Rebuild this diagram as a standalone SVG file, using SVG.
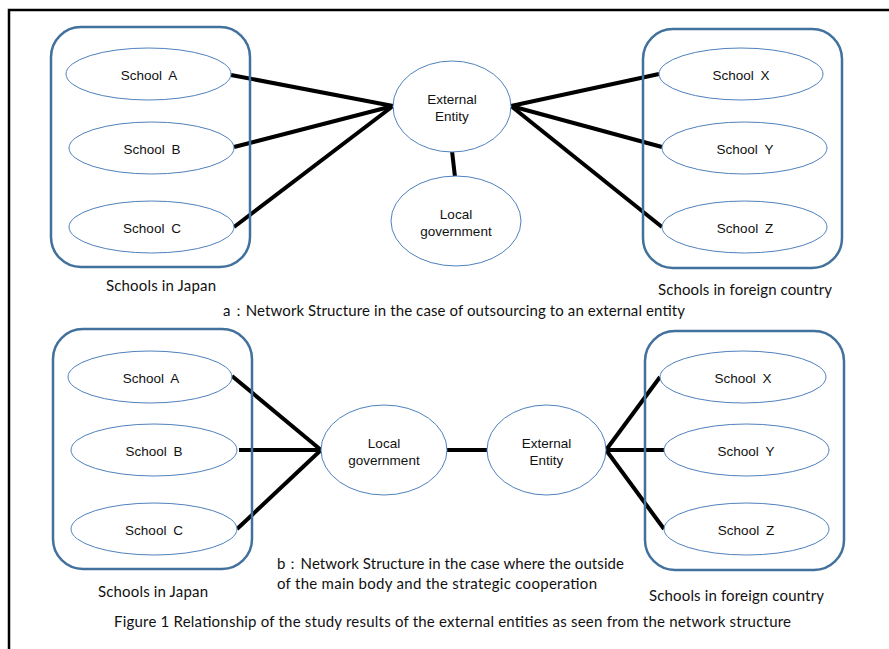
<svg xmlns="http://www.w3.org/2000/svg" width="889" height="649" viewBox="0 0 889 649">
<style>
.frame{fill:none;stroke:#000;stroke-width:2.5}
.grp{fill:none;stroke:#41719c;stroke-width:2.5}
.node{fill:#fff;stroke:#4f81bd;stroke-width:1}
.edge{stroke:#000;stroke-width:4;stroke-linecap:butt;fill:none}
text{font-family:"Liberation Sans",Arial,sans-serif;fill:#111;text-anchor:middle}
.n{font-size:13.5px;word-spacing:3px}
.lbl{font-family:Lato,"Liberation Sans",sans-serif;font-size:15px;text-anchor:start}
.cap{font-family:Lato,"Liberation Sans",sans-serif;font-size:15px;text-anchor:start}
</style>
<rect class="frame" x="9" y="10" width="900" height="700"/>

<g id="connectors">
<line class="edge" x1="231" y1="75" x2="393" y2="106"/>
<line class="edge" x1="234" y1="147" x2="393" y2="106"/>
<line class="edge" x1="234" y1="227" x2="393" y2="106"/>
<line class="edge" x1="511" y1="106" x2="659" y2="74"/>
<line class="edge" x1="511" y1="106" x2="662" y2="147"/>
<line class="edge" x1="511" y1="106" x2="662" y2="227"/>
<line class="edge" x1="452" y1="151" x2="455" y2="177"/>
<line class="edge" x1="232" y1="376" x2="321" y2="450"/>
<line class="edge" x1="239" y1="450" x2="321" y2="450"/>
<line class="edge" x1="237" y1="529" x2="321" y2="450"/>
<line class="edge" x1="447" y1="450" x2="487" y2="450"/>
<line class="edge" x1="606" y1="450" x2="660" y2="377"/>
<line class="edge" x1="606" y1="450" x2="664" y2="450"/>
<line class="edge" x1="606" y1="450" x2="664" y2="529"/>
</g>

<g id="group-japan-a"><rect class="grp" x="51" y="27" width="199" height="240" rx="30"/></g>
<g id="group-foreign-a"><rect class="grp" x="643" y="29" width="199" height="239" rx="30"/></g>
<g id="group-japan-b"><rect class="grp" x="53" y="329" width="199" height="240" rx="30"/></g>
<g id="group-foreign-b"><rect class="grp" x="645" y="331" width="199" height="239" rx="30"/></g>

<g id="a-school-a"><ellipse class="node" cx="148.5" cy="74" rx="82.5" ry="26"/><text class="n" x="149" y="80">School A</text></g>
<g id="a-school-b"><ellipse class="node" cx="151.5" cy="148" rx="82.5" ry="26"/><text class="n" x="152" y="154">School B</text></g>
<g id="a-school-c"><ellipse class="node" cx="151.5" cy="227" rx="82.5" ry="26"/><text class="n" x="152" y="233">School C</text></g>
<g id="a-school-x"><ellipse class="node" cx="741" cy="74" rx="82" ry="26"/><text class="n" x="741" y="80">School X</text></g>
<g id="a-school-y"><ellipse class="node" cx="744.5" cy="148" rx="82.5" ry="26"/><text class="n" x="745" y="154">School Y</text></g>
<g id="a-school-z"><ellipse class="node" cx="744.5" cy="227" rx="82.5" ry="26"/><text class="n" x="745" y="233">School Z</text></g>
<g id="a-external"><ellipse class="node" cx="452" cy="106.5" rx="59" ry="45.5"/><text class="n" x="452" y="104">External</text><text class="n" x="452" y="121">Entity</text></g>
<g id="a-local"><ellipse class="node" cx="456" cy="221" rx="65" ry="45"/><text class="n" x="456" y="218.5">Local</text><text class="n" x="456" y="235.5">government</text></g>

<g id="b-school-a"><ellipse class="node" cx="150" cy="377" rx="82" ry="26"/><text class="n" x="151" y="383">School A</text></g>
<g id="b-school-b"><ellipse class="node" cx="154" cy="450" rx="83" ry="26"/><text class="n" x="154" y="456">School B</text></g>
<g id="b-school-c"><ellipse class="node" cx="154" cy="529" rx="83" ry="26"/><text class="n" x="154" y="535">School C</text></g>
<g id="b-school-x"><ellipse class="node" cx="743" cy="377" rx="83" ry="26"/><text class="n" x="743" y="383">School X</text></g>
<g id="b-school-y"><ellipse class="node" cx="746.5" cy="450" rx="82.5" ry="26"/><text class="n" x="746" y="456">School Y</text></g>
<g id="b-school-z"><ellipse class="node" cx="746.5" cy="529" rx="82.5" ry="26"/><text class="n" x="746" y="535">School Z</text></g>
<g id="b-local"><ellipse class="node" cx="384" cy="450" rx="63" ry="45"/><text class="n" x="384" y="447.5">Local</text><text class="n" x="384" y="464.5">government</text></g>
<g id="b-external"><ellipse class="node" cx="546.5" cy="450" rx="59.5" ry="45"/><text class="n" x="546.5" y="447.5">External</text><text class="n" x="546.5" y="464.5">Entity</text></g>

<g id="labels">
<text class="lbl" x="106" y="291" textLength="110">Schools in Japan</text>
<text class="lbl" x="658" y="295" textLength="174">Schools in foreign country</text>
<text class="cap" x="223" y="316" textLength="462">a：Network Structure in the case of outsourcing to an external entity</text>
<text class="lbl" x="98" y="597" textLength="110">Schools in Japan</text>
<text class="lbl" x="649" y="601" textLength="175">Schools in foreign country</text>
<text class="cap" x="277" y="569" textLength="347">b：Network Structure in the case where the outside</text>
<text class="cap" x="277" y="589" textLength="320">of the main body and the strategic cooperation</text>
<text class="cap" x="114" y="627" textLength="677">Figure 1 Relationship of the study results of the external entities as seen from the network structure</text>
</g>
</svg>
